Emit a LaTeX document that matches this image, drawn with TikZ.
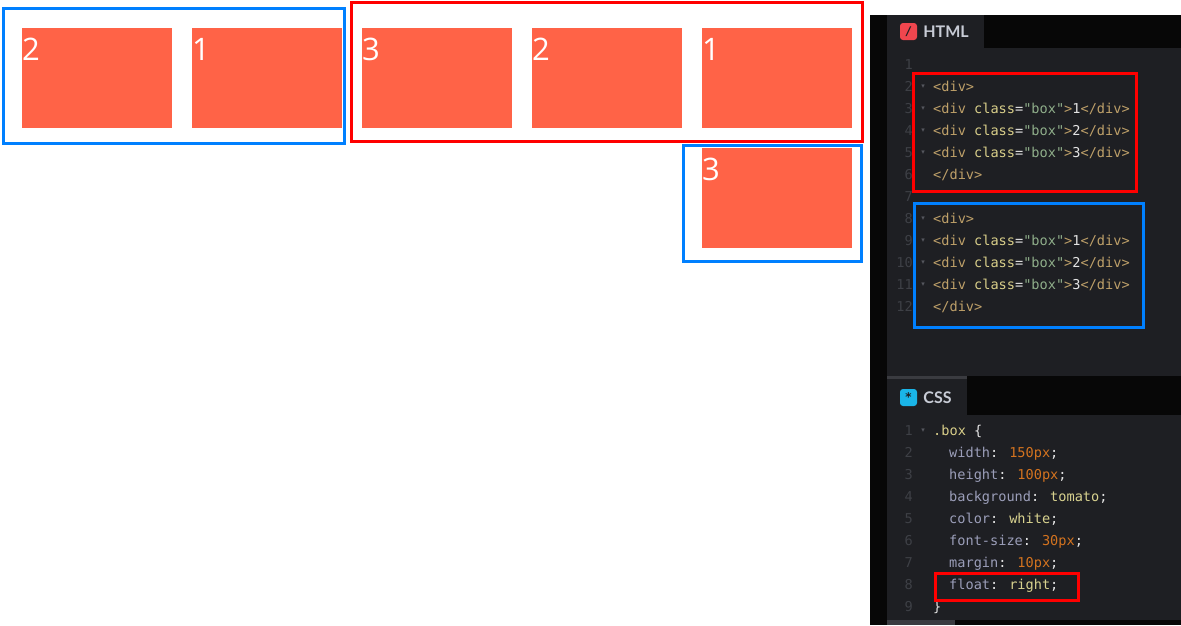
\documentclass[tikz,border=0pt]{standalone}
\usepackage{fontspec}
\usepackage{xcolor}
\usetikzlibrary{positioning}
\newfontfamily\boxfont{Open Sans}
\newfontfamily\codefont{DejaVu Sans Mono}[Ligatures=TeXOff]
\newfontfamily\tabfont{Lato}
\newfontfamily\symfont{DejaVu Sans}
\definecolor{tomato}{RGB}{255,99,71}
\definecolor{markblue}{RGB}{0,128,255}
\definecolor{markred}{RGB}{255,0,0}
\definecolor{editorbg}{RGB}{30,31,35}
\definecolor{headerbg}{RGB}{7,7,7}
\definecolor{barbg}{RGB}{58,59,64}
\definecolor{gutter}{RGB}{62,64,70}
\definecolor{foldcol}{RGB}{85,87,94}
\definecolor{tagcol}{RGB}{190,160,105}
\definecolor{attrcol}{RGB}{216,206,137}
\definecolor{strcol}{RGB}{143,174,138}
\definecolor{propcol}{RGB}{155,158,185}
\definecolor{numcol}{RGB}{212,115,31}
\definecolor{kwcol}{RGB}{216,210,143}
\definecolor{plaincol}{RGB}{228,228,228}
\definecolor{tabtext}{RGB}{200,204,214}
\definecolor{htmlred}{RGB}{240,70,78}
\definecolor{csscyan}{RGB}{26,181,232}
\newcommand{\ctag}[1]{\textcolor{tagcol}{#1}}
\newcommand{\cattr}[1]{\textcolor{attrcol}{#1}}
\newcommand{\cstr}[1]{\textcolor{strcol}{#1}}
\newcommand{\cprop}[1]{\textcolor{propcol}{#1}}
\newcommand{\cnum}[1]{\textcolor{numcol}{#1}}
\newcommand{\ckw}[1]{\textcolor{kwcol}{#1}}
\newcommand{\cpl}[1]{\textcolor{plaincol}{#1}}
\newcommand{\boxline}[1]{\ctag{<div} \cattr{class}\cpl{=}\cstr{"box"}\ctag{>}\cpl{#1}\ctag{</div>}}
\begin{document}
\begin{tikzpicture}[x=1pt,y=-1pt,node distance=20pt,
  floatbox/.style={fill=tomato,minimum width=150pt,minimum height=100pt,inner sep=0,outer sep=0},
  boxnum/.style={anchor=north west,inner sep=0,yshift=-10pt,text=white,font=\boxfont\fontsize{31}{31}\selectfont},
  codeline/.style={anchor=base west,inner sep=0,font=\codefont\fontsize{13.6}{16}\selectfont},
  lineno/.style={anchor=base east,inner sep=0,text=gutter,font=\codefont\fontsize{13.6}{16}\selectfont},
  fold/.style={inner sep=0,text=foldcol,font=\symfont\fontsize{7}{7}\selectfont},
  tablabel/.style={anchor=west,inner sep=0,text=tabtext,font=\tabfont\bfseries\fontsize{16}{16}\selectfont},
  tabicon/.style={minimum size=17pt,inner sep=0,rounded corners=3pt,text=editorbg,font=\codefont\bfseries\fontsize{12}{12}\selectfont}]
\useasboundingbox (0,0) rectangle (1181,625);
\fill[white] (0,0) rectangle (1181,625);

% floated boxes
\node[floatbox,label={[boxnum]north west:1}] (r1) at (777,78) {};
\node[floatbox,label={[boxnum]north west:2},left=of r1] (r2) {};
\node[floatbox,label={[boxnum]north west:3},left=of r2] (r3) {};
\node[floatbox,label={[boxnum]north west:1},left=of r3] (l1) {};
\node[floatbox,label={[boxnum]north west:2},left=of l1] (l2) {};
\node[floatbox,label={[boxnum]north west:3},below=of r1] (d3) {};

\draw[markblue,line width=3pt] (3.5,8.5) rectangle (344.5,143);
\draw[markred,line width=3pt] (351.5,2.5) rectangle (862,141.5);
\draw[markblue,line width=3pt] (683.5,145) rectangle (861.5,261.5);

% editor panel
\fill[headerbg] (870,15) rectangle (1181,625);
\fill[editorbg] (887,48) rectangle (1181,376);
\fill[editorbg] (887,15) rectangle (984,48);
\fill[barbg] (887,376) rectangle (967,379);
\fill[editorbg] (887,379) rectangle (967,415);
\fill[editorbg] (887,415) rectangle (1181,620);
\fill[barbg] (887,620) rectangle (955,625);

\node[tabicon,fill=htmlred] (htmlicon) at (908.5,31.5) {/};
\node[tablabel,right=6pt of htmlicon] (htmltab) {HTML};
\node[tabicon,fill=csscyan] (cssicon) at (908.5,397.5) {*};
\node[tablabel,right=6pt of cssicon] (csstab) {CSS};

\foreach \n in {1,...,12} \node[lineno] (hn\n) at (913,{47.5+22*\n}) {\n};
\foreach \n in {2,3,4,5,8,9,10,11} \node[fold] (hf\n) at (923,{43+22*\n}) {▾};
\foreach \n in {1,...,9} \node[lineno] (cn\n) at (913,{413.5+22*\n}) {\n};
\node[fold] (cf1) at (923,431) {▾};

\node[codeline] (h2) at (933,91.5) {\ctag{<div>}};
\node[codeline] (h3) at (933,113.5) {\boxline{1}};
\node[codeline] (h4) at (933,135.5) {\boxline{2}};
\node[codeline] (h5) at (933,157.5) {\boxline{3}};
\node[codeline] (h6) at (933,179.5) {\ctag{</div>}};
\node[codeline] (h8) at (933,223.5) {\ctag{<div>}};
\node[codeline] (h9) at (933,245.5) {\boxline{1}};
\node[codeline] (h10) at (933,267.5) {\boxline{2}};
\node[codeline] (h11) at (933,289.5) {\boxline{3}};
\node[codeline] (h12) at (933,311.5) {\ctag{</div>}};

\node[codeline] (c1) at (933,435.5) {\cattr{.box} \cpl{\{}};
\node[codeline] (c2) at (949,457.5) {\cprop{width}\cpl{:} \cnum{150px}\cpl{;}};
\node[codeline] (c3) at (949,479.5) {\cprop{height}\cpl{:} \cnum{100px}\cpl{;}};
\node[codeline] (c4) at (949,501.5) {\cprop{background}\cpl{:} \ckw{tomato}\cpl{;}};
\node[codeline] (c5) at (949,523.5) {\cprop{color}\cpl{:} \ckw{white}\cpl{;}};
\node[codeline] (c6) at (949,545.5) {\cprop{font-size}\cpl{:} \cnum{30px}\cpl{;}};
\node[codeline] (c7) at (949,567.5) {\cprop{margin}\cpl{:} \cnum{10px}\cpl{;}};
\node[codeline] (c8) at (949,589.5) {\cprop{float}\cpl{:} \ckw{right}\cpl{;}};
\node[codeline] (c9) at (933,611.5) {\cpl{\}}};

\draw[markred,line width=3pt] (913.5,73) rectangle (1136.5,191.5);
\draw[markblue,line width=3pt] (914.5,203.5) rectangle (1143,327);
\draw[markred,line width=3pt] (935,573) rectangle (1078.5,600.5);
\end{tikzpicture}
\end{document}
